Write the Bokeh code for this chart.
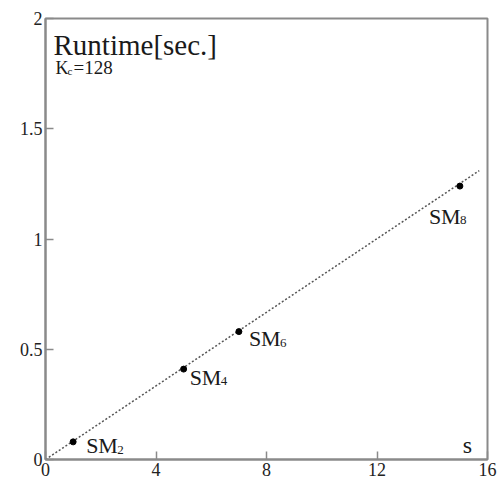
from bokeh.plotting import figure
from bokeh.models import FixedTicker, ColumnDataSource
from bokeh.core.properties import value
from bokeh.embed import file_html
from bokeh.resources import INLINE

# data
s_vals = [1, 5, 7, 15]
runtime = [0.08, 0.41, 0.58, 1.24]
label_main = ["SM", "SM", "SM", "SM"]
label_sub = ["2", "4", "6", "8"]
fit_x = [0, 15.7]
fit_y = [0, 1.31]
x_ticks = [0, 4, 8, 12, 16]
y_ticks = [0, 0.5, 1, 1.5, 2]

# label placement (screen px offsets)
lab_dx = [13, 6, 10, -31]
lab_dy = [4, 8, 7, 30]

FONT = "Liberation Serif"
TXT = "#1a1a1a"

p = figure(width=502, height=482, x_range=(0, 16), y_range=(0, 2),
           output_backend="svg", toolbar_location=None,
           min_border_left=45, min_border_right=15, min_border_top=18, min_border_bottom=23)
p.xgrid.visible = False
p.ygrid.visible = False
p.outline_line_color = "#8a8a8a"
p.outline_line_width = 2
p.background_fill_color = "white"
p.border_fill_color = "white"

for ax, ticks in ((p.xaxis[0], x_ticks), (p.yaxis[0], y_ticks)):
    ax.ticker = FixedTicker(ticks=ticks)
    ax.axis_line_color = "#8a8a8a"
    ax.axis_line_width = 2
    ax.major_tick_line_color = "#8a8a8a"
    ax.major_tick_line_width = 1.5
    ax.major_tick_in = 8
    ax.major_tick_out = 0
    ax.minor_tick_line_color = None
    ax.major_label_text_font = FONT
    ax.major_label_text_font_size = "18px"
    ax.major_label_text_color = "#222222"
    ax.major_label_standoff = 3

p.yaxis[0].major_label_overrides = {0: "0", 0.5: "0.5", 1: "1", 1.5: "1.5", 2: "2"}

p.line(fit_x, fit_y, line_color="#555555", line_width=1.5, line_dash="2 2")
p.scatter(s_vals, runtime, size=6, color="black")

src = ColumnDataSource(dict(x=s_vals, y=runtime, m=label_main, s=label_sub,
                            dx=lab_dx, dy=lab_dy,
                            dxs=[d + 31 for d in lab_dx], dys=[d + 4 for d in lab_dy]))
p.text(x="x", y="y", text="m", x_offset="dx", y_offset="dy", source=src,
       text_font=value(FONT), text_font_size="22px", text_color=TXT,
       text_baseline="alphabetic", text_align="left")
p.text(x="x", y="y", text="s", x_offset="dxs", y_offset="dys", source=src,
       text_font=value(FONT), text_font_size="13px", text_color=TXT,
       text_baseline="alphabetic", text_align="left")

# title texts
p.text(x=[0.29], y=[1.882], text=["Runtime[sec.]"], text_font=value(FONT),
       text_font_size="29px", text_color=TXT, text_baseline="alphabetic")
p.text(x=[0.36], y=[1.777], text=["K"], text_font=value(FONT),
       text_font_size="18px", text_color=TXT, text_baseline="alphabetic")
p.text(x=[0.36], y=[1.777], text=["c"], x_offset=[12], y_offset=[3], text_font=value(FONT),
       text_font_size="11px", text_color=TXT, text_baseline="alphabetic")
p.text(x=[0.36], y=[1.777], text=["=128"], x_offset=[18], text_font=value(FONT),
       text_font_size="19px", text_color=TXT, text_baseline="alphabetic")
p.text(x=[15.1], y=[0.066], text=["s"], text_font=value(FONT),
       text_font_size="24px", text_color=TXT, text_baseline="alphabetic")

open("out.html", "w").write(file_html(p, INLINE))
